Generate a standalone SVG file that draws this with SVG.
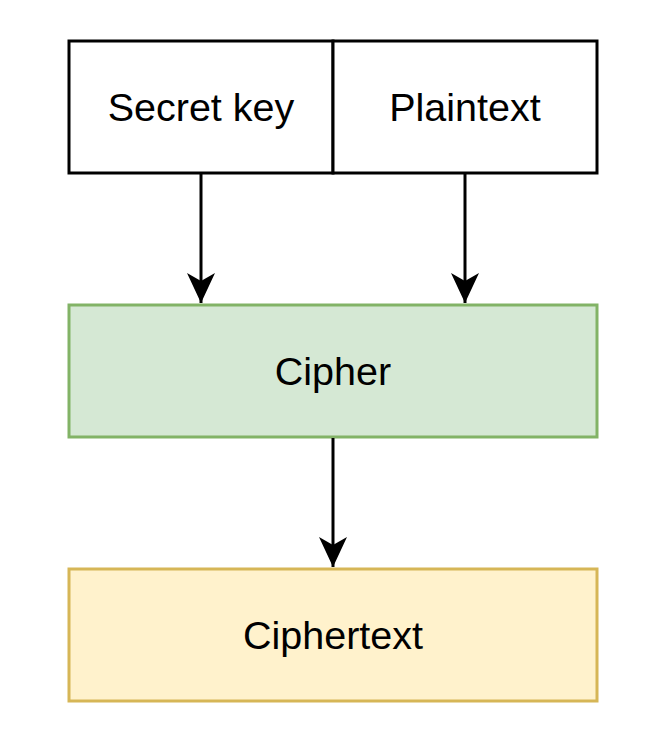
<svg xmlns="http://www.w3.org/2000/svg" width="660" height="752" viewBox="0 0 660 752">
<style>
.box{stroke-width:3}
.lbl{font-family:"Liberation Sans",Arial,Helvetica,sans-serif;font-size:39.5px;fill:#000;text-anchor:middle}
.edge{stroke:#000;stroke-width:3;fill:none}
</style>
<defs>
<marker id="arr" markerUnits="userSpaceOnUse" markerWidth="32" markerHeight="32" viewBox="0 0 32 32" refX="30" refY="16" orient="auto">
<path d="M30,16 L0,2 L8,16 L0,30 Z" fill="#000"/>
</marker>
</defs>
<rect width="660" height="752" fill="#fff"/>
<g id="secret-key">
<rect class="box" x="69" y="41" width="264" height="132" fill="#fff" stroke="#000"/>
<text class="lbl" x="201" y="121">Secret key</text>
</g>
<g id="plaintext">
<rect class="box" x="333" y="41" width="264" height="132" fill="#fff" stroke="#000"/>
<text class="lbl" x="465" y="121">Plaintext</text>
</g>
<g id="cipher">
<rect class="box" x="69" y="305" width="528" height="132" fill="#d5e8d4" stroke="#82b366"/>
<text class="lbl" x="333" y="385">Cipher</text>
</g>
<g id="ciphertext">
<rect class="box" x="69" y="569" width="528" height="132" fill="#fff2cc" stroke="#d6b656"/>
<text class="lbl" x="333" y="649">Ciphertext</text>
</g>
<g id="connectors">
<line class="edge" x1="201" y1="174" x2="201" y2="303" marker-end="url(#arr)"/>
<line class="edge" x1="465" y1="174" x2="465" y2="303" marker-end="url(#arr)"/>
<line class="edge" x1="333" y1="438" x2="333" y2="567" marker-end="url(#arr)"/>
</g>
</svg>
